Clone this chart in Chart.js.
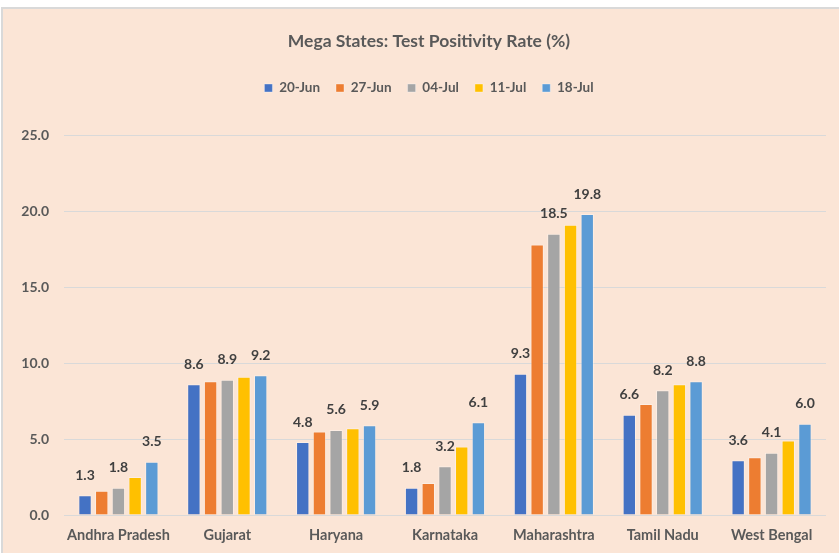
<!DOCTYPE html>
<html>
<head>
<meta charset="utf-8">
<script src="https://cdn.jsdelivr.net/npm/chart.js@4.4.1/dist/chart.umd.min.js"></script>
<style>
  html, body { margin: 0; padding: 0; background: #ffffff; overflow: hidden; }
  #wrap { position: absolute; left: 0; top: 0; width: 839px; height: 553px; }
</style>
</head>
<body>
<div id="wrap"><canvas id="c" width="839" height="553"></canvas></div>
<script>
const categories = ["Andhra Pradesh", "Gujarat", "Haryana", "Karnataka", "Maharashtra", "Tamil Nadu", "West Bengal"];
const seriesNames = ["20-Jun", "27-Jun", "04-Jul", "11-Jul", "18-Jul"];
const jun20 = [1.3, 8.6, 4.8, 1.8, 9.3, 6.6, 3.6];
const jun27 = [1.6, 8.8, 5.5, 2.1, 17.8, 7.3, 3.8];
const jul04 = [1.8, 8.9, 5.6, 3.2, 18.5, 8.2, 4.1];
const jul11 = [2.5, 9.1, 5.7, 4.5, 19.1, 8.6, 4.9];
const jul18 = [3.5, 9.2, 5.9, 6.1, 19.8, 8.8, 6.0];
const yTicks = [0, 5, 10, 15, 20, 25];
const labelledSeries = [0, 2, 4];

const colors = ["#4472C4", "#ED7D31", "#A5A5A5", "#FFC000", "#5B9BD5"];
const FONT = "Lato, 'Open Sans', sans-serif";
const series = [jun20, jun27, jul04, jul11, jul18];

const bgPlugin = {
  id: 'bg',
  beforeDraw(chart) {
    const ctx = chart.ctx;
    const W = chart.width, H = chart.height;
    ctx.save();
    ctx.fillStyle = '#ffffff';
    ctx.fillRect(0, 0, W, H);
    ctx.fillStyle = '#FBE5D6';
    ctx.fillRect(3, 9, W - 3, H - 9);
    ctx.fillStyle = '#D9D9D9';
    ctx.fillRect(1, 7, W - 1, 2);
    ctx.fillRect(1, 7, 2, H - 7);
    ctx.restore();
  }
};

const legendGap = {
  id: 'legendGap',
  beforeInit(chart) {
    const orig = chart.legend.fit;
    chart.legend.fit = function () {
      orig.bind(chart.legend)();
      this.height += 30.25;
    };
  }
};

const valueLabels = {
  id: 'valueLabels',
  afterDatasetsDraw(chart) {
    const ctx = chart.ctx;
    ctx.save();
    ctx.font = "bold 14px " + FONT;
    ctx.fillStyle = '#404040';
    ctx.textAlign = 'center';
    ctx.textBaseline = 'middle';
    labelledSeries.forEach(di => {
      const meta = chart.getDatasetMeta(di);
      meta.data.forEach((el, i) => {
        const v = chart.data.datasets[di].data[i];
        ctx.fillText(v.toFixed(1), el.x, el.y - 20);
      });
    });
    ctx.restore();
  }
};

new Chart(document.getElementById('c'), {
  type: 'bar',
  data: {
    labels: categories,
    datasets: series.map((d, i) => ({
      label: seriesNames[i],
      data: d,
      backgroundColor: colors[i],
      borderColor: 'rgba(255,255,255,0.35)',
      borderWidth: 1,
      categoryPercentage: 0.767,
      barPercentage: 0.8,
      yAxisID: 'y'
    }))
  },
  options: {
    responsive: false,
    animation: false,
    devicePixelRatio: 1,
    layout: { padding: { left: 19, right: 0, top: 0, bottom: 0 } },
    plugins: {
      title: {
        display: true,
        text: 'Mega States: Test Positivity Rate (%)',
        color: '#595959',
        font: { family: FONT, size: 17.5, weight: 'bold' },
        padding: { top: 30.5, bottom: 13.75 }
      },
      legend: {
        display: true,
        position: 'top',
        labels: {
          color: '#595959',
          font: { family: FONT, size: 13.5, weight: 'bold' },
          boxWidth: 8,
          boxHeight: 8,
          padding: 16
        }
      },
      tooltip: { enabled: false }
    },
    scales: {
      x: {
        grid: { display: false, drawTicks: false },
        border: { display: false },
        ticks: {
          color: '#595959',
          font: { family: FONT, size: 14.5, weight: 'bold' },
          padding: 12,
          maxRotation: 0,
          autoSkip: false
        },
        afterFit(scale) { scale.height = 38; }
      },
      y: {
        position: 'left',
        min: 0,
        max: 25,
        afterBuildTicks(scale) { scale.ticks = yTicks.map(v => ({ value: v })); },
        grid: { color: '#D9D9D9', lineWidth: 1, drawTicks: false },
        border: { display: false },
        ticks: {
          color: '#595959',
          font: { family: FONT, size: 14, weight: 'bold' },
          padding: 15,
          callback: v => Number(v).toFixed(1)
        },
        afterFit(scale) { scale.width = 45; }
      },
      yRight: {
        type: 'linear',
        position: 'right',
        display: true,
        grid: { display: false, drawTicks: false },
        border: { display: false },
        ticks: { display: false },
        afterFit(scale) { scale.width = 13; }
      }
    }
  },
  plugins: [bgPlugin, legendGap, valueLabels]
});
</script>
</body>
</html>
